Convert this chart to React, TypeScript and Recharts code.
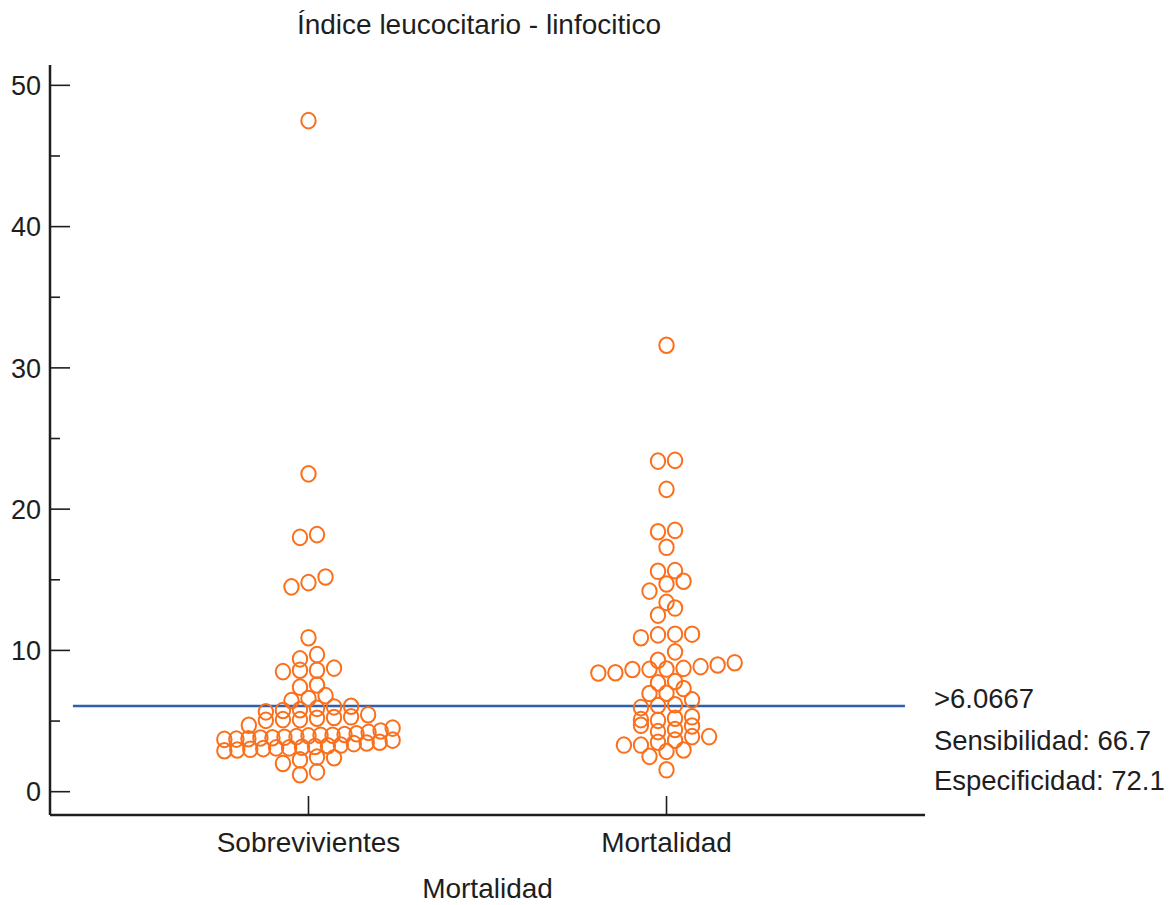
import React from 'react';
import { ScatterChart, Scatter, XAxis, YAxis, ReferenceLine } from 'recharts';

const title = 'Índice leucocitario - linfocitico';
const xAxisTitle = 'Mortalidad';
const categories = ['Sobrevivientes', 'Mortalidad'];
const categoryPositions = [1, 2];
const yTicks = [0, 5, 10, 15, 20, 25, 30, 35, 40, 45, 50];
const cutoff = 6.0667;
const statLines = ['>6.0667', 'Sensibilidad: 66.7', 'Especificidad: 72.1'];

// Values grouped in the horizontal rows of the dot plot (left to right)
const survivorsRows: number[][] = [
  [47.5],
  [22.5],
  [18.0, 18.2],
  [14.5, 14.8, 15.2],
  [10.9],
  [9.4, 9.7],
  [8.5, 8.6, 8.6, 8.75],
  [7.4, 7.55],
  [6.45, 6.6, 6.8],
  [5.65, 5.75, 5.8, 5.9, 6.0, 6.05],
  [4.7, 5.05, 5.1, 5.1, 5.2, 5.25, 5.3, 5.45],
  [3.7, 3.72, 3.75, 3.8, 3.82, 3.85, 3.9, 3.95, 4.0, 4.0, 4.05, 4.1, 4.2, 4.3, 4.5],
  [2.9, 2.95, 3.0, 3.05, 3.1, 3.1, 3.15, 3.2, 3.25, 3.3, 3.4, 3.45, 3.5, 3.65],
  [2.0, 2.25, 2.45, 2.4],
  [1.2, 1.4],
];

const mortalityRows: number[][] = [
  [31.6],
  [23.4, 23.45],
  [21.4],
  [18.4, 18.5],
  [17.3],
  [15.6, 15.65],
  [14.2, 14.7, 14.9],
  [13.4],
  [12.5, 13.0],
  [10.9, 11.1, 11.15, 11.15],
  [9.3, 9.9],
  [8.4, 8.42, 8.65, 8.66, 8.68, 8.73, 8.85, 8.97, 9.13],
  [7.7, 7.8],
  [6.95, 6.97, 7.3],
  [5.95, 6.1, 6.15, 6.5],
  [5.1, 5.05, 5.2, 5.3],
  [4.7, 4.25, 4.4, 4.65],
  [3.3, 3.3, 3.5, 3.65, 3.9, 3.9],
  [2.5, 2.85, 2.95],
  [1.55],
];

const FONT = '"Liberation Sans", Arial, Helvetica, sans-serif';
const TEXT = '#1e1e1e';
const ORANGE = '#fb6f1b';
const BLUE = '#2f5fae';

const X_DOMAIN: [number, number] = [0.278, 2.722];
const Y_DOMAIN: [number, number] = [-1.65, 51.44];
const DOT_STEP = 0.0476; // horizontal step between dots, in category units
const MAX_HALF = 0.235; // maximum half width of a row, in category units

function layoutRows(rows: number[][], center: number) {
  const pts: { x: number; y: number }[] = [];
  rows.forEach((row) => {
    const n = row.length;
    const step = n > 1 ? Math.min(DOT_STEP, (2 * MAX_HALF) / (n - 1)) : 0;
    row.forEach((v, i) => {
      pts.push({ x: center + (i - (n - 1) / 2) * step, y: v });
    });
  });
  return pts;
}

const survivorsData = layoutRows(survivorsRows, categoryPositions[0]);
const mortalityData = layoutRows(mortalityRows, categoryPositions[1]);

const Dot = (props: any) => {
  const { cx, cy } = props;
  if (cx == null || cy == null) return null;
  return <ellipse cx={cx} cy={cy} rx={7.2} ry={7.8} fill="none" stroke={ORANGE} strokeWidth={2} />;
};

const YTick = (props: any) => {
  const { x, y, payload } = props;
  const v = payload.value;
  const major = v % 10 === 0;
  return (
    <g>
      <line x1={x + 1} x2={x + (major ? 20 : 10)} y1={y} y2={y} stroke={TEXT} strokeWidth={1.6} />
      {major && (
        <text x={x - 9} y={y} dy="0.36em" textAnchor="end" fontSize={27} fill={TEXT} fontFamily={FONT}>
          {v}
        </text>
      )}
    </g>
  );
};

const XTick = (props: any) => {
  const { x, y, payload } = props;
  const idx = categoryPositions.indexOf(payload.value);
  return (
    <g>
      <line x1={x} x2={x} y1={y - 1} y2={y - 19} stroke={TEXT} strokeWidth={1.6} />
      <text x={x} y={y + 37} textAnchor="middle" fontSize={28} fill={TEXT} fontFamily={FONT}>
        {idx >= 0 ? categories[idx] : ''}
      </text>
    </g>
  );
};

const XLabel = (props: any) => {
  const vb = props.viewBox || {};
  return (
    <text x={vb.x + vb.width / 2} y={vb.y + 83} textAnchor="middle" fontSize={28} fill={TEXT} fontFamily={FONT}>
      {xAxisTitle}
    </text>
  );
};

const StatsLabel = (props: any) => {
  const vb = props.viewBox || {};
  const x0 = vb.x + vb.width + 29;
  const y0 = vb.y;
  const offsets = [2, 44, 84];
  return (
    <g>
      {statLines.map((s, i) => (
        <text key={i} x={x0} y={y0 + offsets[i]} fontSize={27.5} fill={TEXT} fontFamily={FONT}>
          {s}
        </text>
      ))}
    </g>
  );
};

export default function App() {
  return (
    <div style={{ position: 'relative', width: 1166, height: 897 }}>
      <div
        style={{
          position: 'absolute',
          left: 0,
          top: 3,
          width: 942,
          textAlign: 'center',
          fontFamily: FONT,
          fontSize: 28,
          lineHeight: '28px',
          color: TEXT,
        }}
      >
        {title}
      </div>
      <ScatterChart width={1166} height={897} margin={{ top: 57, right: 249, bottom: 0, left: 0 }}>
        <XAxis
          type="number"
          dataKey="x"
          domain={X_DOMAIN}
          ticks={categoryPositions}
          interval={0}
          allowDataOverflow
          height={90}
          tickSize={0}
          tickMargin={0}
          tickLine={false}
          tick={<XTick />}
          axisLine={{ stroke: TEXT, strokeWidth: 2.5 }}
          label={<XLabel />}
        />
        <YAxis
          type="number"
          dataKey="y"
          domain={Y_DOMAIN}
          ticks={yTicks}
          interval={0}
          allowDataOverflow
          width={42}
          tickSize={0}
          tickMargin={0}
          tickLine={false}
          tick={<YTick />}
          axisLine={{ stroke: TEXT, strokeWidth: 2.5 }}
        />
        <ReferenceLine
          segment={[
            { x: 0.342, y: cutoff },
            { x: 2.666, y: cutoff },
          ]}
          stroke={BLUE}
          strokeWidth={2.5}
          ifOverflow="visible"
          label={<StatsLabel />}
        />
        <Scatter data={survivorsData} shape={<Dot />} isAnimationActive={false} />
        <Scatter data={mortalityData} shape={<Dot />} isAnimationActive={false} />
      </ScatterChart>
    </div>
  );
}
